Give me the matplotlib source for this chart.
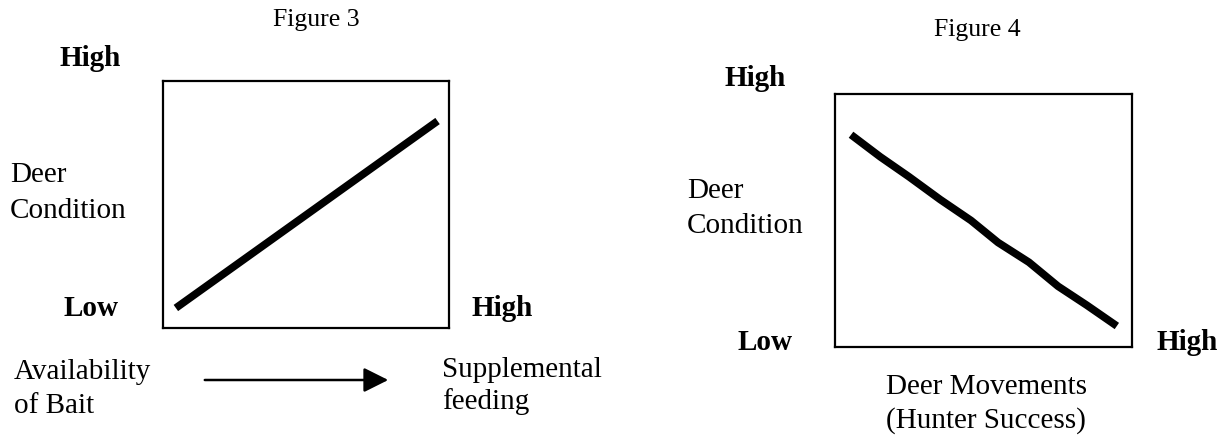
import matplotlib
matplotlib.use("Agg")
import matplotlib.pyplot as plt
from matplotlib.patches import FancyArrowPatch

W, H = 1228, 436
DPI = 100

# Data (relative positions inside each box, 0..1)
fig3_x = [0.045, 0.960]
fig3_y = [0.081, 0.838]
fig4_x = [0.054, 0.152, 0.249, 0.354, 0.458, 0.549, 0.653, 0.751, 0.848, 0.949]
fig4_y = [0.839, 0.752, 0.673, 0.583, 0.500, 0.413, 0.335, 0.240, 0.165, 0.083]

plt.rcParams['font.family'] = ['Liberation Serif', 'DejaVu Serif']

fig = plt.figure(figsize=(W / DPI, H / DPI), dpi=DPI)


def fx(x):
    return x / W


def fy(y):
    return 1 - y / H


def box_axes(x0, y0, x1, y1):
    ax = fig.add_axes([fx(x0), fy(y1), (x1 - x0) / W, (y1 - y0) / H])
    ax.set_xlim(0, 1)
    ax.set_ylim(0, 1)
    ax.set_xticks([])
    ax.set_yticks([])
    for s in ax.spines.values():
        s.set_linewidth(1.6)
        s.set_color('black')
    return ax


def txt(x, y, s, ha='left', bold=False, size=21):
    fig.text(fx(x), fy(y), s, ha=ha, va='center', fontsize=size,
             fontweight='bold' if bold else 'normal')


# Figure 3
ax3 = box_axes(163, 81, 449, 328)
ax3.plot(fig3_x, fig3_y, color='black', lw=5.5, solid_capstyle='butt')
txt(316, 20, 'Figure 3', ha='center', size=18.5)
txt(90, 59, 'High', ha='center', bold=True)
txt(10, 175, 'Deer')
txt(10, 211, 'Condition')
txt(91, 308, 'Low', ha='center', bold=True)
txt(502, 308, 'High', ha='center', bold=True)
txt(14, 372, 'Availability')
txt(14, 406, 'of Bait')
txt(442, 370, 'Supplemental')
txt(442, 402, 'feeding')
fig.add_artist(FancyArrowPatch(
    (fx(202), fy(380)), (fx(391), fy(380)), transform=fig.transFigure,
    arrowstyle='-|>,head_length=1.0,head_width=0.5', mutation_scale=15,
    color='black', lw=1.8))

# Figure 4
ax4 = box_axes(835, 94, 1132, 347)
ax4.plot(fig4_x, fig4_y, color='black', lw=5.5, solid_capstyle='butt',
         solid_joinstyle='miter')
txt(977, 30, 'Figure 4', ha='center', size=18.5)
txt(755, 78, 'High', ha='center', bold=True)
txt(687, 191, 'Deer')
txt(687, 226, 'Condition')
txt(765, 342, 'Low', ha='center', bold=True)
txt(1187, 342, 'High', ha='center', bold=True)
txt(986, 387, 'Deer Movements', ha='center')
txt(986, 421, '(Hunter Success)', ha='center')

fig.savefig('out.png', dpi=DPI, facecolor='white')
